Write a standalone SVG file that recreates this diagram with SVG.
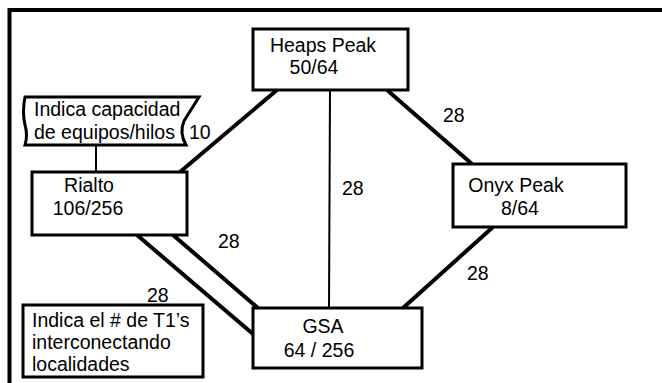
<svg xmlns="http://www.w3.org/2000/svg" width="662" height="383" viewBox="0 0 662 383">
<style>
.box{fill:#fff;stroke:#000;stroke-width:3}
.lnk{stroke:#000;stroke-width:4;fill:none}
.thin{stroke:#000;stroke-width:2;fill:none}
text{font-family:"Liberation Sans",Arial,sans-serif;font-size:19.5px;fill:#000}
.c{text-anchor:middle}
</style>
<rect width="662" height="383" fill="#fff"/>
<g id="frame">
<path d="M9.5,383 L9.5,10 L662,10" fill="none" stroke="#000" stroke-width="4"/>
</g>
<g id="connectors">
<line class="lnk" x1="277" y1="90" x2="180" y2="172"/>
<line class="thin" x1="330" y1="90" x2="329" y2="308"/>
<line class="lnk" x1="387" y1="90" x2="472" y2="164"/>
<line class="lnk" x1="493" y1="227" x2="403" y2="308"/>
<line class="lnk" x1="137" y1="235" x2="253" y2="334"/>
<line class="lnk" x1="173" y1="235" x2="258" y2="308"/>
<line class="thin" x1="96" y1="145" x2="96" y2="172" stroke-width="3"/>
<text x="443" y="122">28</text>
<text x="342" y="195">28</text>
<text x="218" y="248">28</text>
<text x="147" y="302">28</text>
<text x="467" y="280">28</text>
</g>
<g id="heaps">
<rect class="box" x="253" y="29" width="155" height="61"/>
<text class="c" x="323" y="52">Heaps Peak</text>
<text class="c" x="314" y="74">50/64</text>
</g>
<g id="rialto">
<rect class="box" x="32" y="172" width="155" height="63"/>
<text class="c" x="89" y="192">Rialto</text>
<text class="c" x="88" y="215">106/256</text>
</g>
<g id="onyx">
<rect class="box" x="453" y="164" width="173" height="63"/>
<text class="c" x="516" y="192">Onyx Peak</text>
<text class="c" x="520" y="215">8/64</text>
</g>
<g id="gsa">
<rect class="box" x="253" y="308" width="169" height="60"/>
<text class="c" x="323" y="333">GSA</text>
<text class="c" x="319" y="357">64 / 256</text>
</g>
<g id="note-capacity">
<path class="box" d="M25,97 L199,97 L184,121 Q179,133 186,145 L25,145 Q28,135 25,125 Q22,112 25,97 Z"/>
<text x="34" y="116">Indica capacidad</text>
<text x="34" y="139">de equipos/hilos</text>
<text x="189" y="139">10</text>
</g>
<g id="note-t1">
<rect class="box" x="23" y="305" width="180" height="72"/>
<text x="32" y="327">Indica el # de T1’s</text>
<text x="32" y="349">interconectando</text>
<text x="32" y="371">localidades</text>
</g>
</svg>
